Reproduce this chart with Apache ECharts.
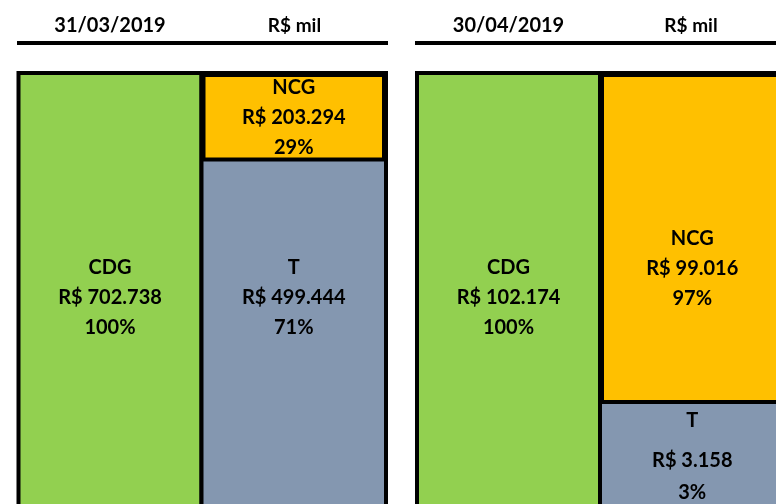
<!DOCTYPE html>
<html><head><meta charset="utf-8">
<script src="https://cdn.jsdelivr.net/npm/echarts@6/dist/echarts.min.js"></script>
<style>html,body{margin:0;padding:0;background:#fff}#c{width:776px;height:504px}</style>
</head><body><div id="c"></div>
<script>
// ---- data ----
const dates = ['31/03/2019', '30/04/2019'];
const unitLabel = 'R$ mil';
const itemNames = ['CDG', 'NCG', 'T'];
const cdgValues = [702738, 102174];   // R$ mil
const ncgValues = [203294, 99016];
const tValues = [499444, 3158];
const cdgShares = [100, 100];          // %
const ncgShares = [29, 97];
const tShares = [71, 3];

// ---- layout / style ----
const FONT = 'Lato';
const GREEN = '#92D050', ORANGE = '#FFC000', SLATE = '#8497B0';
const BW = 4;
const gridTop = 73, gridH = 457;
const panels = [
  { x0: 18.5, mid: 201.5, x1: 386, yMax: 149.8, cdgOff: 225, ncgPos: 'inside', tOff: 136.5, tTight: false,
    head: [110, 294.5], line: [17, 371] },
  { x0: 417, mid: 600, x1: 784.5, yMax: 133.9, cdgOff: 225, ncgPos: ['50%', 196], tOff: 48, tTight: true,
    head: [508.5, 691], line: [415, 365] }
];

function money(n) { return 'R$ ' + String(n).replace(/\B(?=(\d{3})+(?!\d))/g, '.'); }
function rich(tight) {
  const base = { fontFamily: FONT, fontWeight: 'bold', fontSize: 20, color: '#000', align: 'center' };
  return {
    t: Object.assign({}, base, { lineHeight: tight ? 36 : 30 }),
    v: Object.assign({}, base, { lineHeight: tight ? 44 : 30 }),
    p: Object.assign({}, base, { lineHeight: tight ? 20 : 30 })
  };
}
function labelText(name, val, share) { return '{t|' + name + '}\n{v|' + money(val) + '}\n{p|' + share + '%}'; }

const grid = [], xAxis = [], yAxis = [], series = [], graphic = [];
panels.forEach((p, i) => {
  const cols = [[p.x0, p.mid], [p.mid, p.x1]];
  cols.forEach((c, j) => {
    const gi = grid.length;
    grid.push({ left: c[0], top: gridTop, width: c[1] - c[0], height: gridH, outerBoundsMode: 'none', containLabel: false });
    xAxis.push({ type: 'category', gridIndex: gi, data: [j === 0 ? itemNames[0] : itemNames[1] + '/' + itemNames[2]], show: false });
    yAxis.push({ type: 'value', gridIndex: gi, inverse: true, min: 0, max: p.yMax, show: false, splitLine: { show: false } });
  });
  const g0 = i * 2, g1 = i * 2 + 1;
  // CDG column
  series.push({
    type: 'bar', name: itemNames[0], xAxisIndex: g0, yAxisIndex: g0, barWidth: '100%',
    data: [cdgShares[i]], itemStyle: { color: 'rgba(0,0,0,0)' },
    showBackground: true, backgroundStyle: { color: GREEN, borderColor: '#000', borderWidth: BW, opacity: 1 },
    label: { show: true, position: ['50%', p.cdgOff], align: 'center', verticalAlign: 'middle',
      formatter: labelText(itemNames[0], cdgValues[i], cdgShares[i]), rich: rich(false) },
    silent: true, animation: false
  });
  // NCG (top of stacked column); background of column = T colour
  series.push({
    type: 'bar', name: itemNames[1], xAxisIndex: g1, yAxisIndex: g1, barWidth: '100%', stack: 's' + i,
    data: [ncgShares[i]], itemStyle: { color: ORANGE, borderColor: '#000', borderWidth: BW },
    showBackground: true, backgroundStyle: { color: SLATE, borderColor: '#000', borderWidth: BW, opacity: 1 },
    label: { show: true, position: p.ncgPos, align: 'center', verticalAlign: 'middle',
      formatter: labelText(itemNames[1], ncgValues[i], ncgShares[i]), rich: rich(false) },
    silent: true, animation: false
  });
  // T
  series.push({
    type: 'bar', name: itemNames[2], xAxisIndex: g1, yAxisIndex: g1, barWidth: '100%', stack: 's' + i,
    data: [tShares[i]], itemStyle: { color: 'rgba(0,0,0,0)' },
    label: { show: true, position: ['50%', p.tOff], align: 'center', verticalAlign: 'middle',
      formatter: labelText(itemNames[2], tValues[i], tShares[i]), rich: rich(p.tTight) },
    silent: true, animation: false
  });
  // headers
  graphic.push({ type: 'text', x: p.head[0], y: 26, style: { text: dates[i], fontFamily: FONT, fontWeight: 'bold', fontSize: 20, fill: '#000', textAlign: 'center', textVerticalAlign: 'middle' } });
  graphic.push({ type: 'text', x: p.head[1], y: 26, style: { text: unitLabel, fontFamily: FONT, fontWeight: 'bold', fontSize: 19, fill: '#000', textAlign: 'center', textVerticalAlign: 'middle' } });
  graphic.push({ type: 'rect', shape: { x: p.line[0], y: 41, width: p.line[1], height: 4 }, style: { fill: '#000' } });
});

const chart = echarts.init(document.getElementById('c'), null, { renderer: 'canvas' });
chart.setOption({ animation: false, backgroundColor: '#fff', grid, xAxis, yAxis, series, graphic });
</script></body></html>
